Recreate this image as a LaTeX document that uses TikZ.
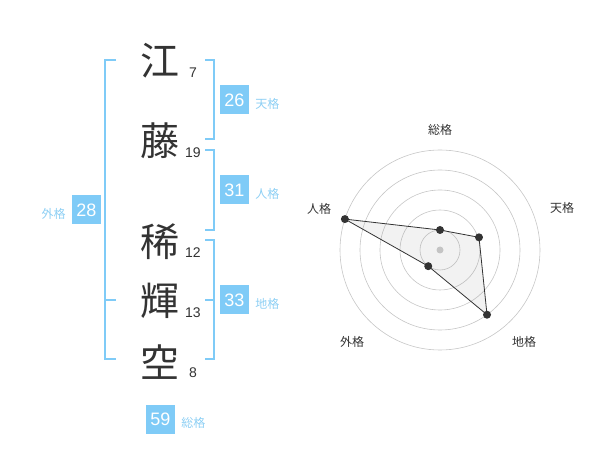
\documentclass[tikz,border=0pt]{standalone}
\usepackage{fontspec}
\setmainfont{Liberation Sans}
\newfontfamily\cjk{Noto Sans CJK JP}
\usetikzlibrary{positioning,calc}
\definecolor{kakublue}{HTML}{7FCBF7}
\definecolor{kakutext}{HTML}{8DCFF4}
\definecolor{inkgray}{HTML}{333333}
\tikzstyle{kanji}=[inkgray,inner sep=0,font=\cjk\fontsize{39}{39}\selectfont]
\tikzstyle{strokes}=[inkgray,inner sep=0,font=\fontsize{14}{14}\selectfont]
\tikzstyle{kakubox}=[fill=kakublue,text=white,minimum size=29pt,inner sep=0,font=\fontsize{18}{18}\selectfont]
\tikzstyle{kakuname}=[kakutext,inner sep=0,yshift=-4pt,font=\cjk\fontsize{12}{12}\selectfont]
\tikzstyle{bracket}=[kakublue,line width=2pt]
\tikzstyle{ring}=[gray!45,line width=.6pt]
\tikzstyle{radardot}=[shape=circle,minimum size=8pt,inner sep=0,fill=inkgray]
\tikzstyle{axisname}=[inkgray,inner sep=0,font=\cjk\fontsize{12}{12}\selectfont]

\begin{document}
\begin{tikzpicture}[x=1pt,y=-1pt]
\useasboundingbox (0,0) rectangle (600,470);

% name and stroke counts
\node[kanji] (k1) at (160,61) {江};
\node[kanji] (k2) at (160,141) {藤};
\node[kanji] (k3) at (160,242) {稀};
\node[kanji] (k4) at (160,301) {輝};
\node[kanji] (k5) at (160,362) {空};
\node[strokes] (s1) at (193,73) {7};
\node[strokes] (s2) at (193,153) {19};
\node[strokes] (s3) at (193,253) {12};
\node[strokes] (s4) at (193,313) {13};
\node[strokes] (s5) at (193,373) {8};

% brackets
\draw[bracket] (205,60) -| (214,139) -- (205,139);
\draw[bracket] (205,150) -| (214,230) -- (205,230);
\draw[bracket] (205,240) -| (214,359) -- (205,359);
\draw[bracket] (205,300) -- (214,300);
\draw[bracket] (116,60) -| (105,359) -- (116,359);
\draw[bracket] (105,300) -- (116,300);

% scores
\node[kakubox] (ten) at (234.5,100) {26};
\node[kakuname,right=6pt of ten] (tenname) {天格};
\node[kakubox] (jin) at (234.5,190) {31};
\node[kakuname,right=6pt of jin] (jinname) {人格};
\node[kakubox] (chi) at (234.5,300) {33};
\node[kakuname,right=6pt of chi] (chiname) {地格};
\node[kakubox] (gai) at (86.5,210) {28};
\node[kakuname,left=6pt of gai] (gainame) {外格};
\node[kakubox] (sou) at (160.5,419) {59};
\node[kakuname,right=6pt of sou] (souname) {総格};

% radar chart
\coordinate (c) at (440,250);
\foreach \r in {20,40,...,100}
	\draw[ring] (c) circle (\r);
\fill[gray!40] (c) circle (3.5);
\coordinate (p1) at ($(c)+(-90:20)$);
\coordinate (p2) at ($(c)+(-18:41)$);
\coordinate (p3) at ($(c)+(54:80)$);
\coordinate (p4) at ($(c)+(126:20)$);
\coordinate (p5) at ($(c)+(198:100)$);
\draw[draw=inkgray,fill=gray,fill opacity=.1,line width=.8pt] (p1)--(p2)--(p3)--(p4)--(p5)--cycle;
\foreach \p in {p1,p2,p3,p4,p5}
	\node[radardot] at (\p) {};
\node[axisname] (a1) at (440,130) {総格};
\node[axisname] (a2) at (562,208) {天格};
\node[axisname] (a3) at (524,342) {地格};
\node[axisname] (a4) at (352,342) {外格};
\node[axisname] (a5) at (319,209) {人格};
\end{tikzpicture}
\end{document}
